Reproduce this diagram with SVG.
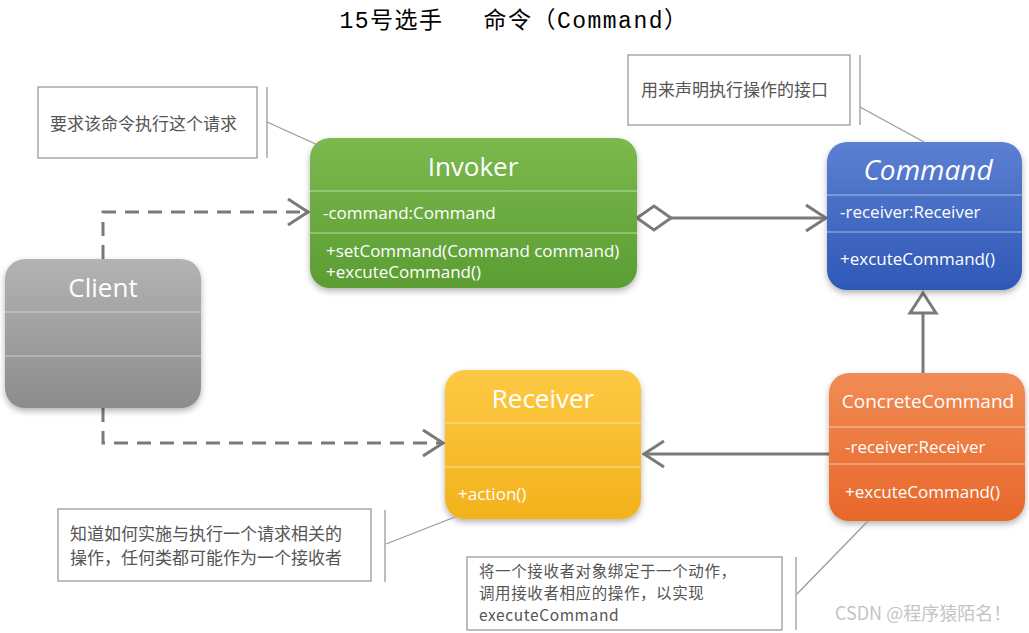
<svg xmlns="http://www.w3.org/2000/svg" width="1029" height="633" viewBox="0 0 1029 633">
<style>
.title{font-family:"Liberation Mono","Noto Sans CJK SC",monospace;font-size:23px;letter-spacing:1.5px;fill:#000}
.hd{font-family:"Open Sans","Noto Sans",sans-serif;font-size:26px;fill:#fff;text-anchor:middle}
.mb{font-family:"Open Sans","Noto Sans",sans-serif;font-size:17px;fill:#fff}
.div{stroke:#ffffff;stroke-opacity:0.55;stroke-width:1.2}
.note{fill:#fff;stroke:#9a9a9a;stroke-width:1.3}
.bar{stroke:#9a9a9a;stroke-width:1.3}
.lead{stroke:#9a9a9a;stroke-width:1.3;fill:none}
.nt{font-family:"Noto Sans CJK SC","Noto Sans",sans-serif;font-size:17px;fill:#555}
.nt2{font-family:"Noto Sans CJK SC","Noto Sans",sans-serif;font-size:15.5px;letter-spacing:0.6px;fill:#555}
.dash{stroke:#7a7a7a;stroke-width:3;fill:none;stroke-dasharray:14 9}
.solid{stroke:#7a7a7a;stroke-width:3;fill:none}
</style>
<defs>
<linearGradient id="gGreen" x1="0" y1="0" x2="0" y2="1"><stop offset="0" stop-color="#7cb94e"/><stop offset="1" stop-color="#5b9d33"/></linearGradient>
<linearGradient id="gBlue" x1="0" y1="0" x2="0" y2="1"><stop offset="0" stop-color="#5c80d2"/><stop offset="1" stop-color="#2e58b6"/></linearGradient>
<linearGradient id="gGray" x1="0" y1="0" x2="0" y2="1"><stop offset="0" stop-color="#b3b3b3"/><stop offset="1" stop-color="#8c8c8c"/></linearGradient>
<linearGradient id="gYellow" x1="0" y1="0" x2="0" y2="1"><stop offset="0" stop-color="#fdc943"/><stop offset="1" stop-color="#f3b21c"/></linearGradient>
<linearGradient id="gOrange" x1="0" y1="0" x2="0" y2="1"><stop offset="0" stop-color="#f18c55"/><stop offset="1" stop-color="#e8672a"/></linearGradient>
<filter id="sh" x="-10%" y="-10%" width="120%" height="125%"><feDropShadow dx="0" dy="3" stdDeviation="3" flood-color="#000" flood-opacity="0.3"/></filter>
<marker id="open" viewBox="0 0 24 30" refX="22" refY="15" markerWidth="24" markerHeight="30" markerUnits="userSpaceOnUse" orient="auto"><path d="M2,2 L22,15 L2,28" fill="none" stroke="#7a7a7a" stroke-width="3"/></marker>
</defs>

<text class="title" x="514" y="28" text-anchor="middle">15号选手　 命令（Command）</text>

<g id="connectors">
<path class="dash" d="M103,259 V212 H308" marker-end="url(#open)"/>
<path class="dash" d="M103,408 V443 H443" marker-end="url(#open)"/>
<polygon points="637,218 654,206 671,218 654,230" fill="#fff" stroke="#7a7a7a" stroke-width="3"/>
<path class="solid" d="M671,218 H826" marker-end="url(#open)"/>
<path class="solid" d="M923,373 V313"/>
<polygon points="923,293 936,313 910,313" fill="#fff" stroke="#7a7a7a" stroke-width="3"/>
<path class="solid" d="M829,454 H644" marker-end="url(#open)"/>
</g>

<g id="invoker">
<rect x="310" y="138" width="327" height="150" rx="20" fill="url(#gGreen)" filter="url(#sh)"/>
<line class="div" x1="310" y1="191" x2="637" y2="191"/>
<line class="div" x1="310" y1="233" x2="637" y2="233"/>
<text class="hd" x="473" y="176">Invoker</text>
<text class="mb" x="323" y="219">-command:Command</text>
<text class="mb" x="326" y="257">+setCommand(Command command)</text>
<text class="mb" x="326" y="278">+excuteCommand()</text>
</g>

<g id="command">
<rect x="827" y="142" width="195" height="148" rx="20" fill="url(#gBlue)" filter="url(#sh)"/>
<line class="div" x1="827" y1="195" x2="1022" y2="195"/>
<line class="div" x1="827" y1="232" x2="1022" y2="232"/>
<text class="hd" x="928" y="180" style="font-style:italic;font-size:28px">Command</text>
<text class="mb" x="840" y="218">-receiver:Receiver</text>
<text class="mb" x="840" y="265">+excuteCommand()</text>
</g>

<g id="client">
<rect x="5" y="259" width="196" height="149" rx="20" fill="url(#gGray)" filter="url(#sh)"/>
<line class="div" x1="5" y1="312" x2="201" y2="312"/>
<line class="div" x1="5" y1="356" x2="201" y2="356"/>
<text class="hd" x="103" y="297">Client</text>
</g>

<g id="receiver">
<rect x="445" y="370" width="196" height="149" rx="20" fill="url(#gYellow)" filter="url(#sh)"/>
<line class="div" x1="445" y1="423" x2="641" y2="423"/>
<line class="div" x1="445" y1="467" x2="641" y2="467"/>
<text class="hd" x="543" y="408">Receiver</text>
<text class="mb" x="458" y="500">+action()</text>
</g>

<g id="concreteCommand">
<rect x="829" y="373" width="196" height="148" rx="20" fill="url(#gOrange)" filter="url(#sh)"/>
<line class="div" x1="829" y1="427" x2="1025" y2="427"/>
<line class="div" x1="829" y1="464" x2="1025" y2="464"/>
<text class="hd" x="928" y="408" style="font-size:19px">ConcreteCommand</text>
<text class="mb" x="845" y="453">-receiver:Receiver</text>
<text class="mb" x="845" y="498">+excuteCommand()</text>
</g>

<g id="note-invoker">
<rect class="note" x="38" y="87" width="219" height="71"/>
<line class="bar" x1="267" y1="87" x2="267" y2="158"/>
<line class="lead" x1="267" y1="122" x2="320" y2="146"/>
<text class="nt" x="50" y="130">要求该命令执行这个请求</text>
</g>

<g id="note-command">
<rect class="note" x="628" y="55" width="222" height="70"/>
<line class="bar" x1="860" y1="55" x2="860" y2="125"/>
<line class="lead" x1="860" y1="107" x2="924" y2="142"/>
<text class="nt" x="641" y="96">用来声明执行操作的接口</text>
</g>

<g id="note-receiver">
<rect class="note" x="58" y="509" width="313" height="72"/>
<line class="bar" x1="385" y1="510" x2="385" y2="582"/>
<line class="lead" x1="386" y1="544" x2="455" y2="517"/>
<text class="nt" x="70" y="540">知道如何实施与执行一个请求相关的</text>
<text class="nt" x="70" y="564">操作，任何类都可能作为一个接收者</text>
</g>

<g id="note-concrete">
<rect class="note" x="467" y="557" width="315" height="73"/>
<line class="bar" x1="796" y1="557" x2="796" y2="630"/>
<line class="lead" x1="797" y1="594" x2="868" y2="521"/>
<text class="nt2" x="479" y="577">将一个接收者对象绑定于一个动作，</text>
<text class="nt2" x="479" y="599">调用接收者相应的操作，以实现</text>
<text class="nt2" x="479" y="621">executeCommand</text>
</g>

<text x="835" y="620" font-family="Noto Sans CJK SC, Noto Sans, sans-serif" font-size="18" fill="#c4c4c4">CSDN @程序猿陌名！</text>
</svg>
